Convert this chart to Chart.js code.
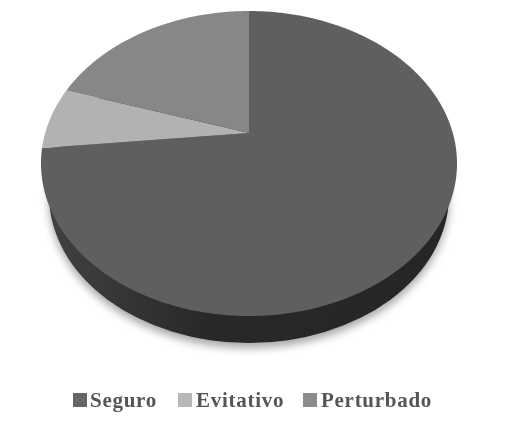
<!DOCTYPE html>
<html>
<head>
<meta charset="utf-8">
<script src="https://cdn.jsdelivr.net/npm/chart.js@4"></script>
<style>
  html, body { margin: 0; background: #fff; }
  #wrap { position: relative; width: 505px; height: 440px; overflow: hidden; }
  #legend { position: absolute; left: 0; top: 386px; width: 505px; height: 28px; }
  #legend span { position: absolute; top: 0; white-space: nowrap;
    font: bold 21px/28px "Liberation Serif", serif; letter-spacing: 0.72px; color: #555555; }
  #legend i { position: absolute; top: 7px; width: 14px; height: 14px; }
</style>
</head>
<body>
<div id="wrap">
  <canvas id="chart" width="505" height="440"></canvas>
  <div id="legend"></div>
</div>
<script>
const categories = ["Seguro", "Evitativo", "Perturbado"];
const values = [73.4, 6.6, 20];
const colors = ["#5f5f5f", "#b2b2b2", "#878787"];
const legendColors = ["#666666", "#b8b8b8", "#8c8c8c"];

// tilted pie: the circle seen in perspective, apex sits above the ellipse centre
const tilt = { cx: 249, cy: 133, a: 203.8, b: 146.4, k: 0.2 };
const wall = { cx: 249, cy: 195, rx: 200, ry: 148 };
const legendBoxX = [73, 178, 303];
const legendTextX = [90, 196, 321];

function project(angle) {
  const u = Math.cos(angle), v = Math.sin(angle);
  const w = 1 - tilt.k * v;
  return [tilt.cx + tilt.a * u / w, tilt.cy + tilt.b * v / w];
}

function traceRim(ctx, start, end) {
  const steps = Math.max(2, Math.ceil((end - start) / 0.01));
  for (let i = 0; i <= steps; i++) {
    const p = project(start + (end - start) * i / steps);
    ctx.lineTo(p[0], p[1]);
  }
}

const tiltedPie = {
  id: "tiltedPie",
  beforeDatasetDraw(chart, args) {
    const ctx = chart.ctx;
    // side wall with its soft shadow
    ctx.save();
    const g = ctx.createLinearGradient(wall.cx - wall.rx, 0, wall.cx + wall.rx, 0);
    g.addColorStop(0, "#414141");
    g.addColorStop(0.4, "#282828");
    g.addColorStop(1, "#262626");
    ctx.shadowColor = "rgba(0,0,0,0.35)";
    ctx.shadowBlur = 8;
    ctx.shadowOffsetY = 5;
    ctx.fillStyle = g;
    ctx.beginPath();
    ctx.ellipse(wall.cx, wall.cy, wall.rx, wall.ry, 0, 0, Math.PI * 2);
    ctx.fill();
    ctx.restore();

    // slices, angles come from the library's arc elements
    args.meta.data.forEach((arc, i) => {
      ctx.beginPath();
      ctx.moveTo(tilt.cx, tilt.cy);
      traceRim(ctx, arc.startAngle, arc.endAngle);
      ctx.closePath();
      ctx.fillStyle = colors[i];
      ctx.fill();
    });
    return false;
  }
};

new Chart(document.getElementById("chart"), {
  type: "pie",
  data: {
    labels: categories,
    datasets: [{ data: values, backgroundColor: colors, borderWidth: 0 }]
  },
  options: {
    responsive: false,
    animation: false,
    plugins: { legend: { display: false }, tooltip: { enabled: false } }
  },
  plugins: [tiltedPie]
});

// legend
const legend = document.getElementById("legend");
categories.forEach((name, i) => {
  const box = document.createElement("i");
  box.style.left = legendBoxX[i] + "px";
  box.style.background = legendColors[i];
  legend.appendChild(box);
  const label = document.createElement("span");
  label.style.left = legendTextX[i] + "px";
  label.textContent = name;
  legend.appendChild(label);
});
</script>
</body>
</html>
